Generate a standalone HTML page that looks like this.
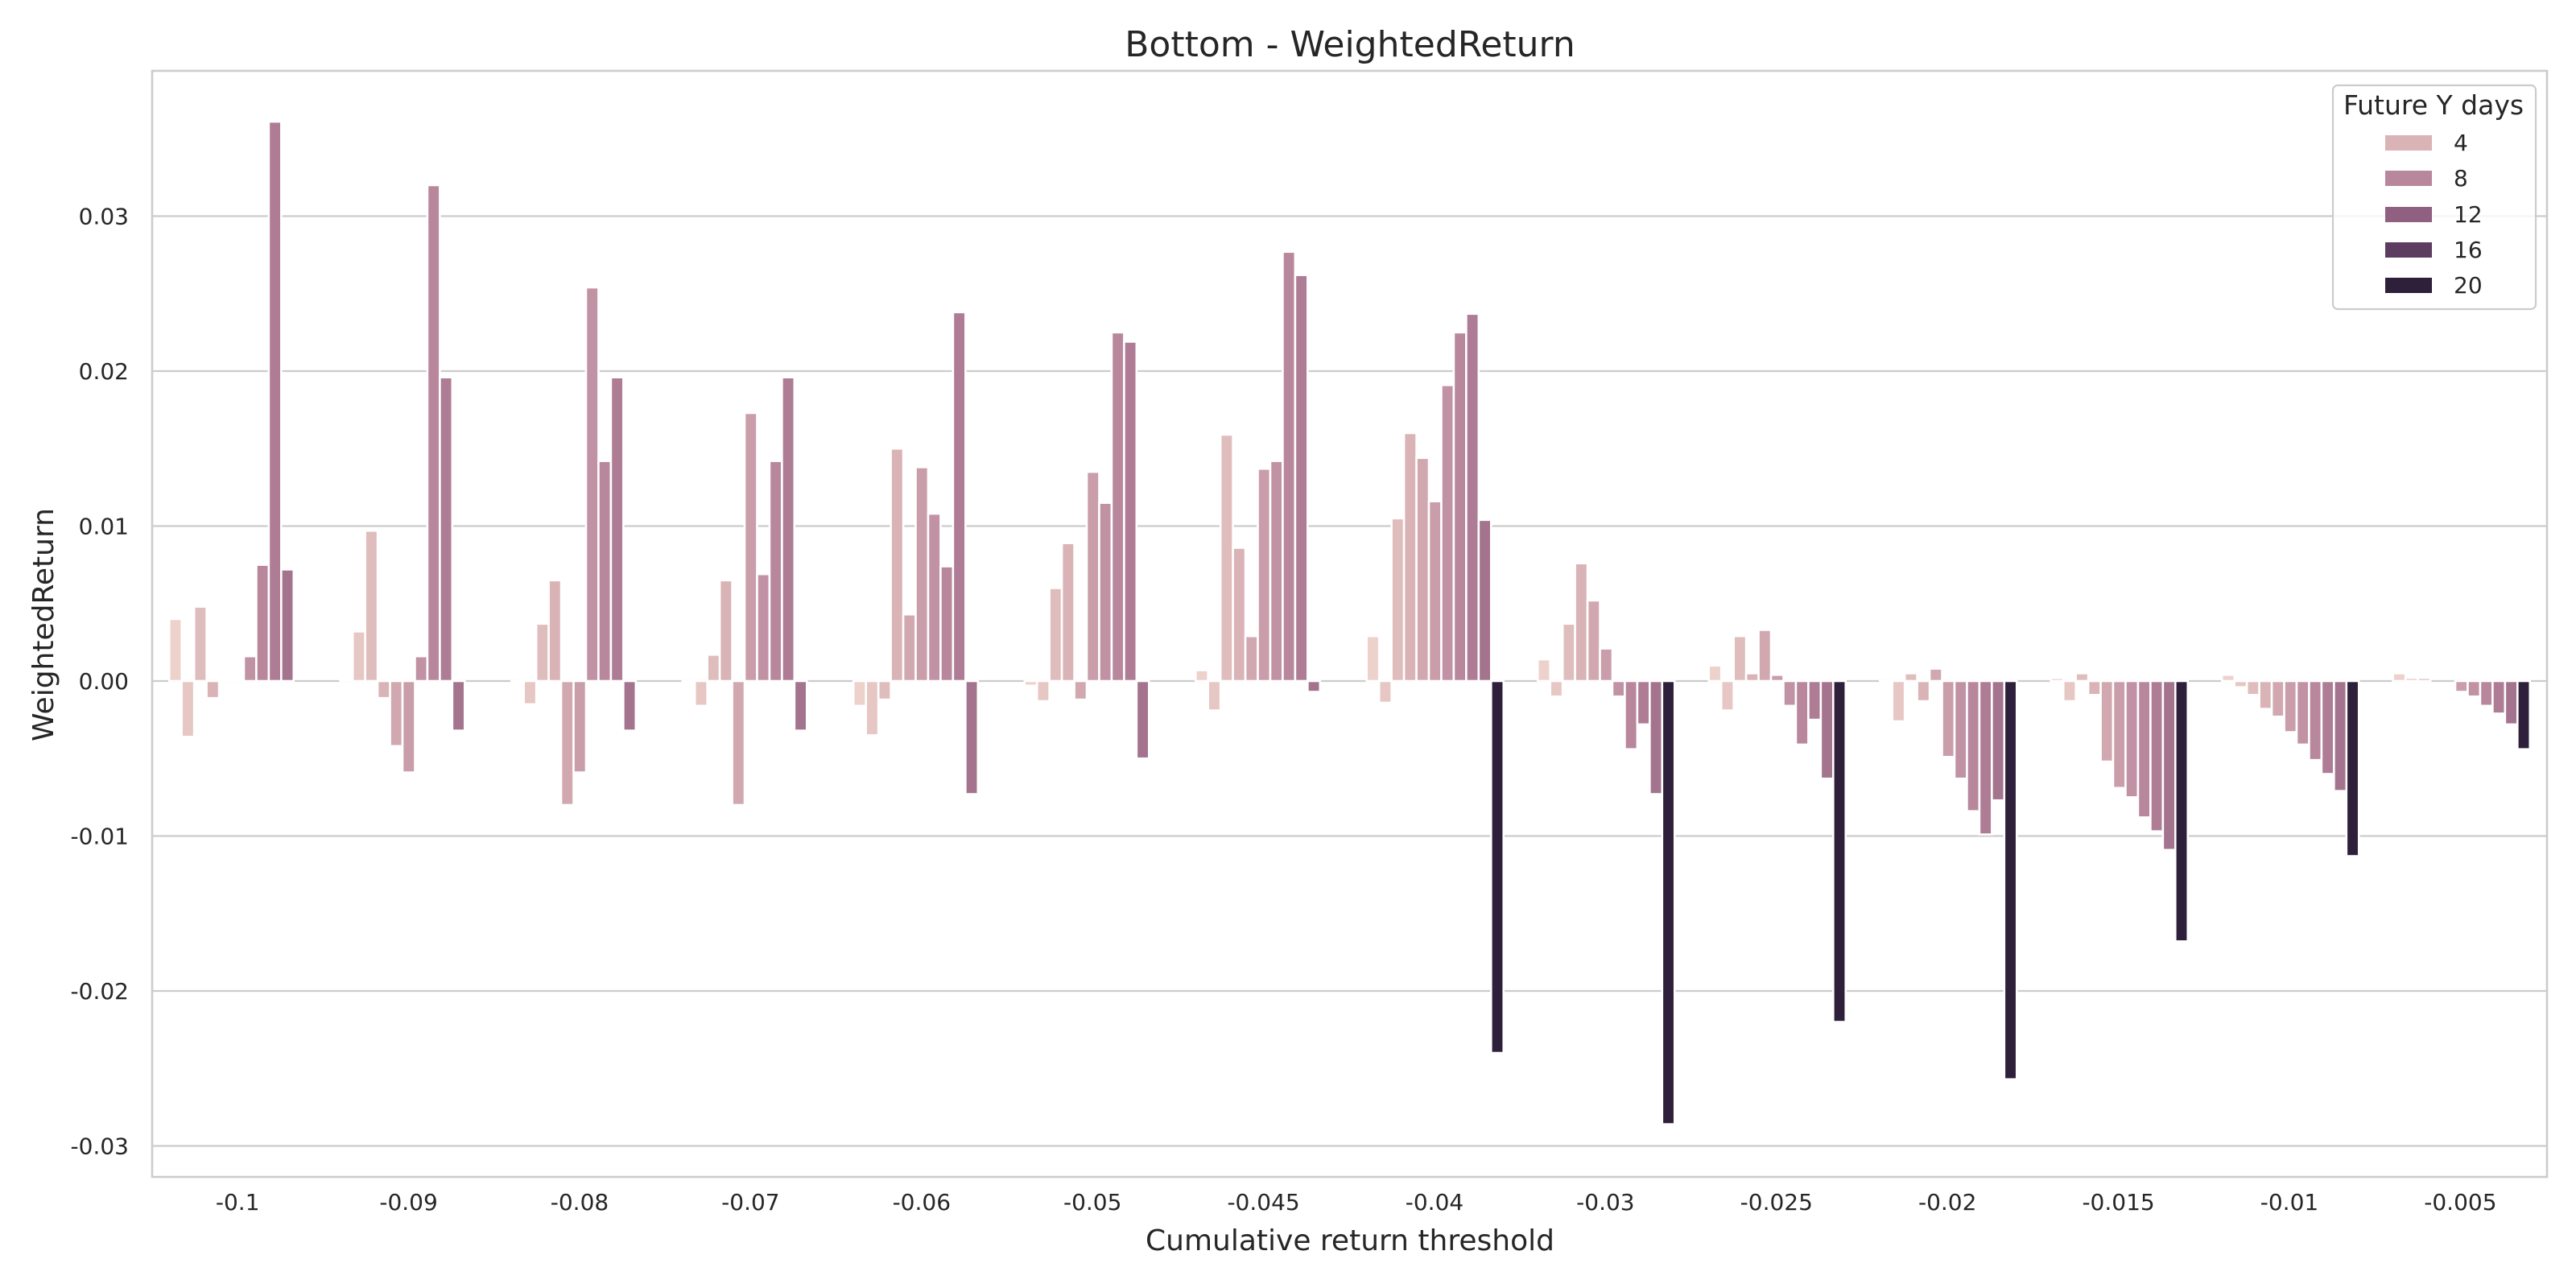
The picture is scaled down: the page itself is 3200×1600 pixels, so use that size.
<!DOCTYPE html>
<html><head><meta charset="utf-8"><style>
html,body{margin:0;padding:0;background:#fff;}
svg{display:block;font-family:"DejaVu Sans","Liberation Sans",sans-serif;}
</style></head><body>
<svg id="s" width="3200" height="1600" viewBox="0 0 3200 1600" xmlns="http://www.w3.org/2000/svg">
<rect x="0" y="0" width="3200" height="1600" fill="#fff"/>
<g id="grid" stroke="#cccccc" stroke-width="2.2">
<line x1="189" x2="3164" y1="268.5" y2="268.5"/>
<line x1="189" x2="3164" y1="461" y2="461"/>
<line x1="189" x2="3164" y1="653.5" y2="653.5"/>
<line x1="189" x2="3164" y1="846" y2="846"/>
<line x1="189" x2="3164" y1="1038.5" y2="1038.5"/>
<line x1="189" x2="3164" y1="1231" y2="1231"/>
<line x1="189" x2="3164" y1="1423.5" y2="1423.5"/>
</g>
<g id="bars"></g>
<rect x="189" y="88" width="2975" height="1374" fill="none" stroke="#cccccc" stroke-width="2.6"/>
<g font-size="28" fill="#262626" text-anchor="end">
<text x="160" y="278.5">0.03</text>
<text x="160" y="471">0.02</text>
<text x="160" y="663.5">0.01</text>
<text x="160" y="856">0.00</text>
<text x="160" y="1048.5">-0.01</text>
<text x="160" y="1241">-0.02</text>
<text x="160" y="1433.5">-0.03</text>
</g>
<g font-size="28" fill="#262626" text-anchor="middle">
<text x="295.2" y="1503">-0.1</text>
<text x="507.6" y="1503">-0.09</text>
<text x="720" y="1503">-0.08</text>
<text x="932.4" y="1503">-0.07</text>
<text x="1144.8" y="1503">-0.06</text>
<text x="1357.2" y="1503">-0.05</text>
<text x="1569.6" y="1503">-0.045</text>
<text x="1782" y="1503">-0.04</text>
<text x="1994.4" y="1503">-0.03</text>
<text x="2206.8" y="1503">-0.025</text>
<text x="2419.2" y="1503">-0.02</text>
<text x="2631.6" y="1503">-0.015</text>
<text x="2844" y="1503">-0.01</text>
<text x="3056.4" y="1503">-0.005</text>
</g>
<text x="1677" y="1553" font-size="36" fill="#262626" text-anchor="middle">Cumulative return threshold</text>
<text x="0" y="0" font-size="36" fill="#262626" text-anchor="middle" transform="translate(66,776) rotate(-90)">WeightedReturn</text>
<text x="1677" y="70" font-size="44" fill="#262626" text-anchor="middle">Bottom - WeightedReturn</text>
<rect x="2898" y="106" width="252" height="278" rx="6" fill="#fff" fill-opacity="0.8" stroke="#cccccc" stroke-width="2.2"/>
<text x="3023" y="142" font-size="33" fill="#262626" text-anchor="middle">Future Y days</text>
<rect x="2963" y="168" width="58" height="19" fill="#d9b3b6"/>
<rect x="2963" y="212" width="58" height="19" fill="#b8879c"/>
<rect x="2963" y="257" width="58" height="19" fill="#8f6080"/>
<rect x="2963" y="301" width="58" height="19" fill="#5c3d60"/>
<rect x="2963" y="345" width="58" height="19" fill="#2e203a"/>
<g font-size="28" fill="#262626">
<text x="3048" y="187">4</text>
<text x="3048" y="231">8</text>
<text x="3048" y="276">12</text>
<text x="3048" y="320">16</text>
<text x="3048" y="364">20</text>
</g>
</svg>
<script>
(function(){
var data=[
[0.0040,-0.0036,0.0048,-0.0011,0.0001,0.0001,0.0016,0.0075,0.0361,0.0072,0],
[0.0001,0.0032,0.0097,-0.0011,-0.0042,-0.0059,0.0016,0.0320,0.0196,-0.0032,0],
[-0.0001,-0.0015,0.0037,0.0065,-0.0080,-0.0059,0.0254,0.0142,0.0196,-0.0032,0],
[-0.0001,-0.0016,0.0017,0.0065,-0.0080,0.0173,0.0069,0.0142,0.0196,-0.0032,0],
[-0.0016,-0.0035,-0.0012,0.0150,0.0043,0.0138,0.0108,0.0074,0.0238,-0.0073,0],
[-0.0003,-0.0013,0.0060,0.0089,-0.0012,0.0135,0.0115,0.0225,0.0219,-0.0050,0],
[0.0007,-0.0019,0.0159,0.0086,0.0029,0.0137,0.0142,0.0277,0.0262,-0.0007,0],
[0.0029,-0.0014,0.0105,0.0160,0.0144,0.0116,0.0191,0.0225,0.0237,0.0104,-0.0240],
[0.0014,-0.0010,0.0037,0.0076,0.0052,0.0021,-0.0010,-0.0044,-0.0028,-0.0073,-0.0286],
[0.0010,-0.0019,0.0029,0.0005,0.0033,0.0004,-0.0016,-0.0041,-0.0025,-0.0063,-0.0220],
[-0.0001,-0.0026,0.0005,-0.0013,0.0008,-0.0049,-0.0063,-0.0084,-0.0099,-0.0077,-0.0257],
[0.0002,-0.0013,0.0005,-0.0009,-0.0052,-0.0069,-0.0075,-0.0088,-0.0097,-0.0109,-0.0168],
[0.0004,-0.0004,-0.0009,-0.0018,-0.0023,-0.0033,-0.0041,-0.0051,-0.0060,-0.0071,-0.0113],
[0.0005,0.0002,0.0002,0.0000,0.0000,-0.0007,-0.0010,-0.0016,-0.0021,-0.0028,-0.0044]
];
var hues=[1,2,3,4,5,6,7,8,9,10,20];
var anchors=[[1,[0xed,0xd1,0xcb]],[4,[0xd9,0xb3,0xb6]],[8,[0xb8,0x87,0x9c]],[12,[0x8f,0x60,0x80]],[16,[0x5c,0x3d,0x60]],[20,[0x2e,0x20,0x3a]]];
function col(h){
 for(var i=0;i<anchors.length-1;i++){
  var a=anchors[i],b=anchors[i+1];
  if(h>=a[0]&&h<=b[0]){
   var t=(h-a[0])/(b[0]-a[0]);
   var c=[0,1,2].map(function(k){return Math.round(a[1][k]+(b[1][k]-a[1][k])*t);});
   return "rgb("+c.join(",")+")";
  }
 }
 return "#2e203a";
}
var g=document.getElementById("bars"),ns="http://www.w3.org/2000/svg";
var step=212.5,w=step*0.8/11,zero=846,k=19250;
for(var i=0;i<data.length;i++){
 var c0=189+step*(i+0.5)-step*0.4;
 for(var j=0;j<11;j++){
  var v=data[i][j],hgt=Math.abs(v)*k;
  var r=document.createElementNS(ns,"rect");
  r.setAttribute("x",c0+j*w);r.setAttribute("width",w);
  r.setAttribute("y",v>=0?zero-hgt:zero);r.setAttribute("height",hgt);
  r.setAttribute("fill",col(hues[j]));
  r.setAttribute("stroke","#fff");r.setAttribute("stroke-width","2.6");
  g.appendChild(r);
 }
}
})();
</script>
</body></html>
